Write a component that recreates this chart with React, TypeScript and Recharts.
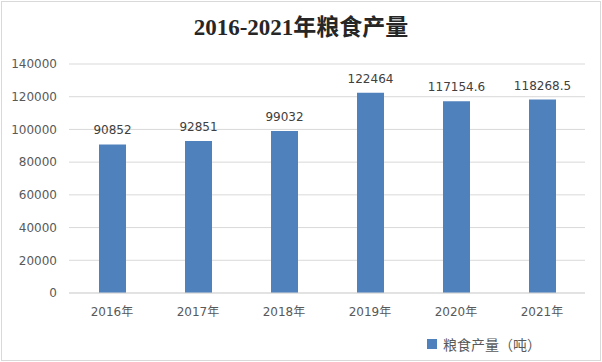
import React from "react";
import { BarChart, Bar, XAxis, YAxis, CartesianGrid, LabelList } from "recharts";

const years = ["2016年", "2017年", "2018年", "2019年", "2020年", "2021年"];
const output = [90852, 92851, 99032, 122464, 117154.6, 118268.5];
const yTicks = [0, 20000, 40000, 60000, 80000, 100000, 120000, 140000];

const data = years.map((year, i) => ({ year, value: output[i] }));

const FONT = "'DejaVu Sans', 'Noto Sans CJK SC', sans-serif";

export default function App() {
  return (
    <div style={{ position: "absolute", left: 0, top: 0, width: 602, height: 362, background: "#fff" }}>
      <div
        style={{
          position: "absolute",
          left: 1,
          top: 1,
          width: 598,
          height: 358,
          border: "1px solid #d9d9d9",
        }}
      />
      <div
        style={{
          position: "absolute",
          left: 0,
          top: 8,
          width: 602,
          textAlign: "center",
          fontFamily: "'Liberation Serif', 'Noto Sans CJK SC', serif",
          fontWeight: "bold",
          fontSize: 23,
          color: "#262626",
        }}
      >
        2016-2021年粮食产量
      </div>
      <BarChart
        width={602}
        height={362}
        data={data}
        margin={{ top: 64, right: 17, left: 0, bottom: 39 }}
        style={{ position: "absolute", left: 0, top: 0 }}
      >
        <CartesianGrid vertical={false} stroke="#d9d9d9" />
        <XAxis
          dataKey="year"
          height={30}
          axisLine={{ stroke: "#d9d9d9" }}
          tickLine={false}
          tickMargin={8}
          tick={{ fill: "#595959", fontSize: 12, fontFamily: FONT }}
        />
        <YAxis
          width={69}
          domain={[0, 140000]}
          ticks={yTicks}
          axisLine={false}
          tickLine={false}
          tickMargin={6}
          tick={{ fill: "#595959", fontSize: 12, fontFamily: FONT }}
        />
        <Bar dataKey="value" fill="#4f81bd" barSize={27} isAnimationActive={false}>
          <LabelList
            dataKey="value"
            position="top"
            offset={10}
            style={{ fill: "#404040", fontSize: 12, fontFamily: FONT }}
          />
        </Bar>
      </BarChart>
      <div
        style={{
          position: "absolute",
          left: 427,
          top: 334,
          display: "flex",
          alignItems: "center",
          fontFamily: FONT,
          fontSize: 14,
          color: "#595959",
        }}
      >
        <span style={{ width: 10, height: 10, background: "#4f81bd", marginRight: 6, display: "inline-block" }} />
        <span>粮食产量（吨）</span>
      </div>
    </div>
  );
}
